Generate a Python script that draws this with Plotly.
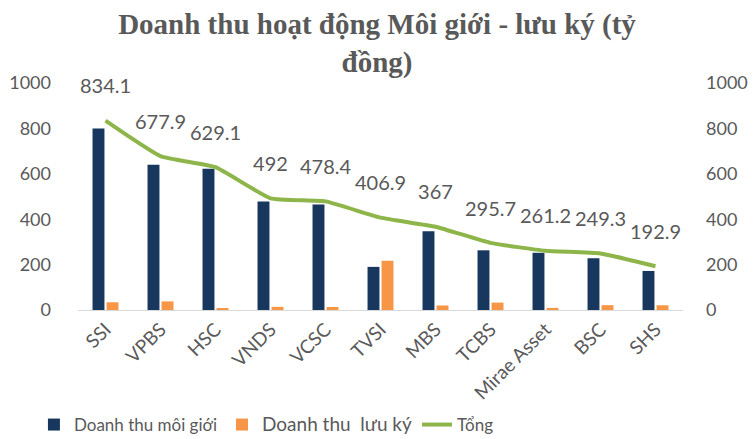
import plotly.graph_objects as go

categories = ["SSI", "VPBS", "HSC", "VNDS", "VCSC", "TVSI", "MBS", "TCBS", "Mirae Asset", "BSC", "SHS"]
moi_gioi = [800, 640, 622, 478, 465, 190, 347, 263, 252, 228, 172]
luu_ky = [34.1, 37.9, 7.1, 14, 13.4, 216.9, 20, 32.7, 9.2, 21.3, 20.9]
tong = [834.1, 677.9, 629.1, 492, 478.4, 406.9, 367, 295.7, 261.2, 249.3, 192.9]
tong_labels = ["834.1", "677.9", "629.1", "492", "478.4", "406.9", "367", "295.7", "261.2", "249.3", "192.9"]
y_ticks = [0, 200, 400, 600, 800, 1000]

GREY = "#595959"
FONT = "Lato"

fig = go.Figure()
fig.add_trace(go.Bar(x=categories, y=moi_gioi, name="Doanh thu môi giới",
                     marker=dict(color="#17375E", line=dict(width=0))))
fig.add_trace(go.Bar(x=categories, y=luu_ky,
                     name='<span style="font-size:19px;">Doanh thu  lưu ký</span>',
                     marker=dict(color="#F79646", line=dict(width=0))))
fig.add_trace(go.Scatter(x=categories, y=tong, name="Tổng", yaxis="y2",
                         mode="lines+markers+text", text=tong_labels,
                         textposition="top center", cliponaxis=False,
                         textfont=dict(family=FONT, size=20, color=GREY),
                         marker=dict(size=34, color="rgba(0,0,0,0)"),
                         line=dict(color="#8DB54A", width=4, shape="spline", smoothing=0.4)))

fig.update_layout(
    width=754, height=439,
    margin=dict(l=78, r=71, t=83, b=129, autoexpand=False),
    paper_bgcolor="white", plot_bgcolor="white",
    barmode="group", bargap=0.49, bargroupgap=0.15,
    font=dict(family=FONT, color=GREY),
    title=dict(text="Doanh thu hoạt động Môi giới - lưu ký (tỷ<br>đồng)",
               x=0.5, xanchor="center", y=1 - 34 / 439, yanchor="top", yref="container",
               font=dict(family="Liberation Serif", size=29, color=GREY, weight="bold")),
    xaxis=dict(range=[-0.5, 10.5], tickangle=-45, tickfont=dict(family=FONT, size=19, color=GREY),
               showline=True, linecolor="#D9D9D9", linewidth=1, showgrid=False,
               ticks="", automargin=False),
    yaxis=dict(range=[0, 1000], tickvals=y_ticks, showgrid=False, zeroline=False, automargin=False,
               tickfont=dict(family=FONT, size=18, color=GREY), ticklabelstandoff=26),
    yaxis2=dict(range=[0, 1000], tickvals=y_ticks, overlaying="y", side="right",
                showgrid=False, zeroline=False, automargin=False,
                tickfont=dict(family=FONT, size=18, color=GREY), ticklabelstandoff=22),
    legend=dict(orientation="h", xref="container", yref="container",
                x=0.045, xanchor="left", y=14 / 439, yanchor="middle",
                font=dict(family=FONT, size=17, color=GREY),
                itemwidth=30, traceorder="normal"),
    showlegend=True,
)

fig.write_html("out.html", config={"displayModeBar": False},
               post_script="document.body.style.margin='0';")
